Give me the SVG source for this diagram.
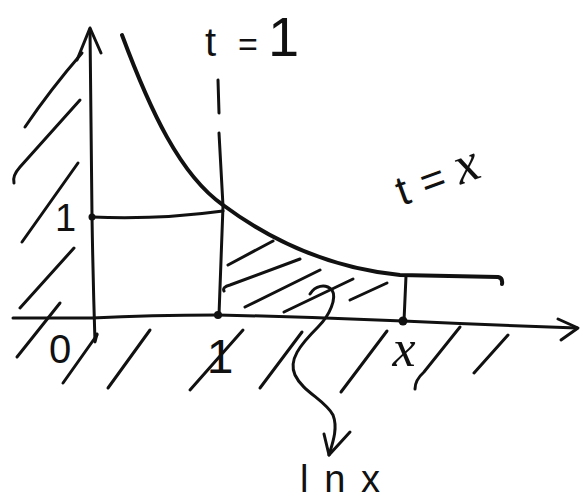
<svg xmlns="http://www.w3.org/2000/svg" width="582" height="500" viewBox="0 0 582 500">
<style>
.ln{fill:none;stroke:#111;stroke-width:3;stroke-linecap:round;stroke-linejoin:round}
.h{fill:none;stroke:#111;stroke-width:3;stroke-linecap:round}
.cv{fill:none;stroke:#111;stroke-width:4;stroke-linecap:round;stroke-linejoin:round}
.tx{fill:#111;font-family:"Liberation Sans",Arial,sans-serif}
.it{fill:#111;font-family:"Liberation Serif","Times New Roman",serif;font-style:italic}
</style>
<rect width="582" height="500" fill="#fff"/>
<g id="axes">
<path class="ln" d="M90,29 Q91,120 92,216 Q93,280 95,342 L97,334"/>
<path class="ln" d="M77,60 L90,28 L101,53"/>
<path class="ln" d="M13,318 L92,318 Q150,315 218,315 Q310,317 403,321 Q490,325 577,328"/>
<path class="ln" d="M558,319 L578,328 L561,340"/>
</g>
<g id="guides">
<path class="ln" d="M218,80 L219,113"/>
<path class="ln" d="M219,133 L223,206 L219,315"/>
<path class="ln" d="M92,217 Q157,220 223,211"/>
<path class="ln" d="M406,276 L404,321"/>
<circle cx="92" cy="217" r="3.5" fill="#111"/>
<circle cx="218" cy="315" r="4" fill="#111"/>
<circle cx="403" cy="321" r="4.5" fill="#111"/>
</g>
<g id="curve">
<path class="cv" d="M122,35 C150,110 180,175 223,205 C270,240 330,268 400,275 L498,277 Q503,278 502,284"/>
</g>
<g id="hatching">
<path class="h" d="M25,127 Q50,90 82,53"/>
<path class="h" d="M14,183 Q12,176 20,167 L80,100"/>
<path class="h" d="M22,242 L78,163"/>
<path class="h" d="M20,308 L74,248"/>
<path class="h" d="M17,357 L60,303"/>
<path class="h" d="M63,383 L97,335"/>
<path class="h" d="M108,388 L150,330"/>
<path class="h" d="M190,390 L243,330"/>
<path class="h" d="M260,388 L302,332"/>
<path class="h" d="M341,392 L387,331"/>
<path class="h" d="M415,389 Q415,380 424,372 L460,327"/>
<path class="h" d="M474,373 L508,335"/>
<path class="h" d="M228,265 L273,241"/>
<path class="h" d="M224,291 Q222,287 230,285 L300,259"/>
<path class="h" d="M245,307 L320,270"/>
<path class="h" d="M284,312 L353,279"/>
<path class="h" d="M350,300 L387,283"/>
</g>
<g id="connectors">
<path class="ln" d="M310,294 C315,286 325,283 332,290 C337,298 330,315 318,327 C300,345 288,360 295,375 C303,392 325,400 333,415 C338,428 333,442 329,455"/>
<path class="ln" d="M324,434 L329,455 L350,432"/>
</g>
<g id="labels">
<text class="tx" y="56"><tspan x="205" font-size="40">t</tspan><tspan x="238" font-size="34">=</tspan><tspan x="268" font-size="56">1</tspan></text>
<text class="tx" x="402" y="206" font-size="42" transform="rotate(-20 402 206)">t<tspan dx="14">=</tspan><tspan dx="12" class="it" font-size="54">x</tspan></text>
<text class="tx" x="55" y="231" font-size="38">1</text>
<text class="tx" x="60" y="363" font-size="40" text-anchor="middle">0</text>
<text class="tx" x="220" y="373" font-size="48" text-anchor="middle">1</text>
<text class="it" x="404" y="366" font-size="52" text-anchor="middle">x</text>
<text class="tx" x="300" y="492" font-size="38" textLength="80" lengthAdjust="spacing">lnx</text>
</g>
</svg>
